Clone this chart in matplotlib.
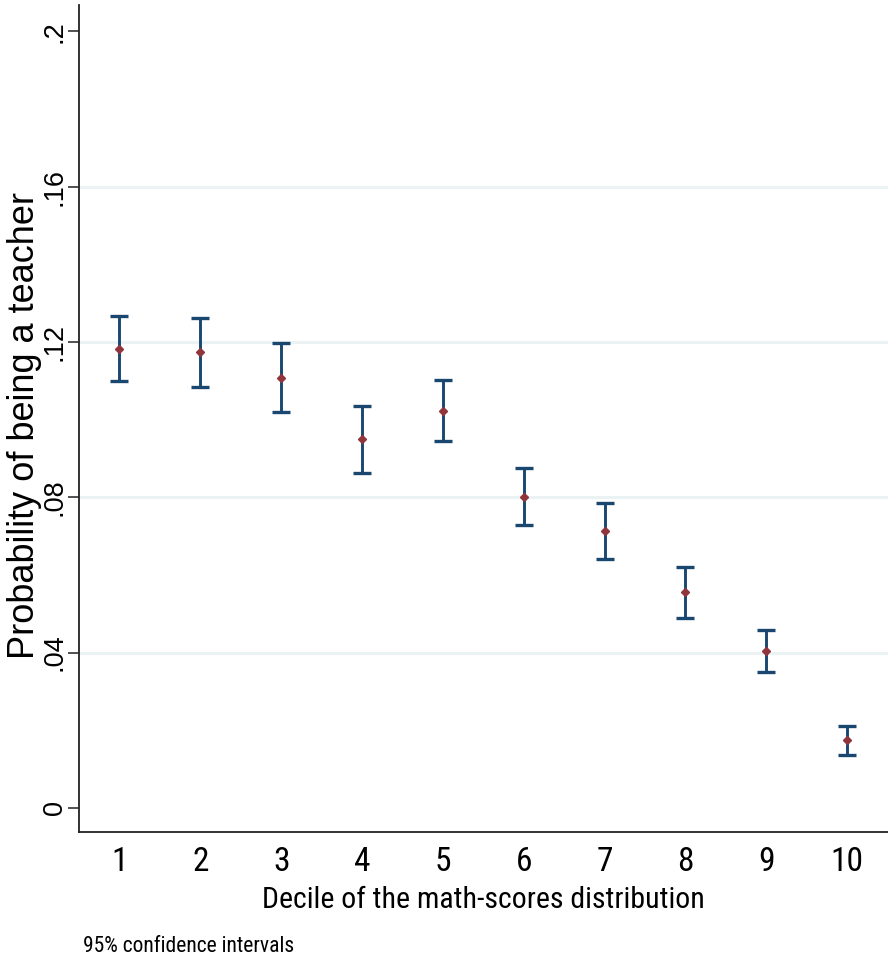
import matplotlib
matplotlib.use("Agg")
import matplotlib.pyplot as plt
from matplotlib import font_manager

# === Data ===
deciles = [1, 2, 3, 4, 5, 6, 7, 8, 9, 10]
prob = [0.1182, 0.1174, 0.1108, 0.0949, 0.1023, 0.0802, 0.0713, 0.0555, 0.0404, 0.0174]
ci_low = [0.1099, 0.1085, 0.1021, 0.0862, 0.0946, 0.0730, 0.0641, 0.0489, 0.0351, 0.0137]
ci_high = [0.1267, 0.1263, 0.1197, 0.1035, 0.1103, 0.0876, 0.0785, 0.0621, 0.0459, 0.0212]
y_ticks = [0, 0.04, 0.08, 0.12, 0.16, 0.2]
y_tick_labels = ["0", ".04", ".08", ".12", ".16", ".2"]

names = {f.name for f in font_manager.fontManager.ttflist}
narrow = ["Liberation Sans Narrow", "Roboto Condensed", "Archivo Narrow", "DejaVu Sans"]
narrow = [n for n in narrow if n in names] or ["DejaVu Sans"]
regular = [n for n in ["Liberation Sans", "Arimo", "DejaVu Sans"] if n in names]

navy = "#1a476f"
maroon = "#90353b"

fig = plt.figure(figsize=(8.88, 9.59), dpi=100)
ax = fig.add_axes([0.089, 0.1324, 0.9105, 0.8624])

# gridlines (not at 0 and .2)
for v in y_ticks[1:-1]:
    ax.axhline(v, color="#eaf2f3", linewidth=2.2, zorder=0)

err_lo = [p - lo for p, lo in zip(prob, ci_low)]
err_hi = [hi - p for p, hi in zip(prob, ci_high)]
ax.errorbar(deciles, prob, yerr=[err_lo, err_hi], fmt="none", ecolor=navy,
            elinewidth=2.1, capsize=6.2, capthick=2.4, zorder=2)
ax.plot(deciles, prob, linestyle="none", marker="D", markersize=4.4,
        color=maroon, markeredgecolor=maroon, zorder=3)

ax.set_xlim(0.5, 10.5)
ax.set_ylim(-0.0062, 0.2068)

ax.set_yticks(y_ticks)
ax.set_yticklabels(y_tick_labels, rotation=90, va="center", family=regular, fontsize=19.5)
ax.set_xticks(deciles)
ax.set_xticklabels([str(d) for d in deciles], family=narrow, fontsize=24)

ax.tick_params(axis="y", length=8, width=1.2, color="#333333", pad=0)
ax.tick_params(axis="x", length=0, pad=10)

for side in ["top", "right"]:
    ax.spines[side].set_visible(False)
for side in ["left", "bottom"]:
    ax.spines[side].set_color("#222222")
    ax.spines[side].set_linewidth(1.3)

ax.set_ylabel("Probability of being a teacher", family=regular, fontsize=26)
ax.yaxis.set_label_coords(-0.046, 0.492)
ax.set_xlabel("Decile of the math-scores distribution", family=narrow, fontsize=21.5, labelpad=6)

fig.text(0.093, 0.002, "95% confidence intervals", family=narrow, fontsize=15.5, ha="left", va="bottom")

fig.savefig("out.png", dpi=100)
